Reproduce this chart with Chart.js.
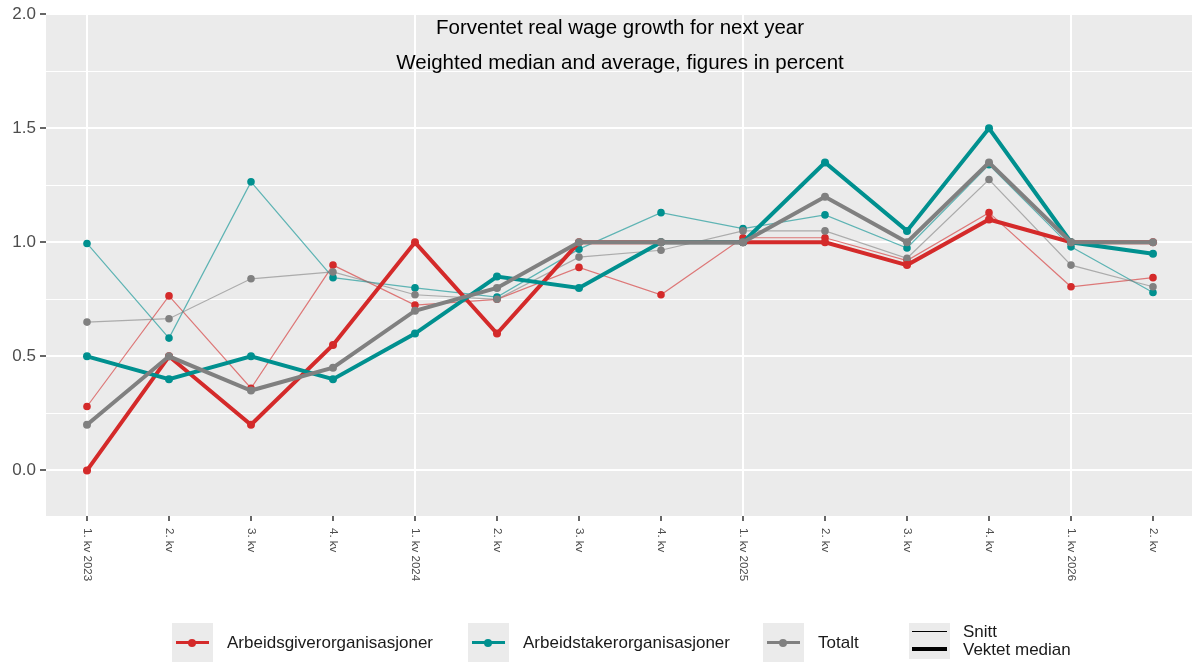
<!DOCTYPE html>
<html>
<head>
<meta charset="utf-8">
<script src="https://cdn.jsdelivr.net/npm/chart.js@4.4.1/dist/chart.umd.min.js"></script>
<style>
  html, body { margin: 0; padding: 0; background: #fff; overflow: hidden; }
  #wrap { position: relative; width: 1192px; height: 663px; overflow: hidden; font-family: "Liberation Sans", Arial, sans-serif; }
  canvas { position: absolute; left: 0; top: 0; }
  .key { position: absolute; top: 623px; width: 41px; height: 39px; background: #ebebeb; }
  .key .ln { position: absolute; left: 4px; right: 4px; top: 18px; height: 3px; }
  .key .dot { position: absolute; left: 16px; top: 16px; width: 8px; height: 8px; border-radius: 50%; }
  .lbl { position: absolute; font-size: 17px; line-height: 18px; color: #1a1a1a; white-space: nowrap; }
</style>
</head>
<body>
<div id="wrap">
  <!-- the panel runs a little past the right edge, like the original -->
  <canvas id="chart" width="1198" height="663"></canvas>
  <div id="legend"></div>
</div>
<script>
// Categories (quarters)
const quarters = ['1. kv 2023', '2. kv', '3. kv', '4. kv', '1. kv 2024', '2. kv', '3. kv', '4. kv',
                  '1. kv 2025', '2. kv', '3. kv', '4. kv', '1. kv 2026', '2. kv'];
const yMajorTicks = [0, 0.5, 1, 1.5, 2];
const yMinorTicks = [0.25, 0.75, 1.25, 1.75];

// Vektet median
const giverMedian = [0, 0.5, 0.2, 0.55, 1.0, 0.6, 1.0, 1.0, 1.0, 1.0, 0.9, 1.1, 1.0, 1.0];
const takerMedian = [0.5, 0.4, 0.5, 0.4, 0.6, 0.85, 0.8, 1.0, 1.0, 1.35, 1.05, 1.5, 1.0, 0.95];
const totalMedian = [0.2, 0.5, 0.35, 0.45, 0.7, 0.8, 1.0, 1.0, 1.0, 1.2, 1.0, 1.35, 1.0, 1.0];

// Snitt
const giverSnitt = [0.28, 0.765, 0.36, 0.9, 0.725, 0.75, 0.89, 0.77, 1.02, 1.02, 0.92, 1.13, 0.805, 0.845];
const takerSnitt = [0.995, 0.58, 1.265, 0.845, 0.8, 0.76, 0.97, 1.13, 1.06, 1.12, 0.975, 1.34, 0.98, 0.78];
const totalSnitt = [0.65, 0.665, 0.84, 0.87, 0.77, 0.75, 0.935, 0.965, 1.05, 1.05, 0.93, 1.275, 0.9, 0.805];

const titleLines = ['Forventet real wage growth for next year', 'Weighted median and average, figures in percent'];

const RED = '#d42a2a';
const TEAL = '#00908f';
const GRAY = '#808080';

function fade(hex, a) {
    const n = parseInt(hex.slice(1), 16);
    return `rgba(${n >> 16}, ${(n >> 8) & 255}, ${n & 255}, ${a})`;
}

function thinSet(label, data, color, order) {
    return {
        label, data, order,
        borderColor: fade(color, 0.6),
        borderWidth: 1.2,
        pointBackgroundColor: color,
        pointBorderWidth: 0,
        pointRadius: 3.8,
        tension: 0
    };
}

function thickSet(label, data, color, order) {
    return {
        label, data, order,
        borderColor: color,
        borderWidth: 4,
        pointBackgroundColor: color,
        pointBorderWidth: 0,
        pointRadius: 4,
        tension: 0
    };
}

const panelPlugin = {
    id: 'panel',
    beforeDraw(chart) {
        const { ctx, chartArea: a } = chart;
        ctx.save();
        ctx.fillStyle = '#ebebeb';
        ctx.fillRect(a.left, a.top, a.right - a.left, a.bottom - a.top);
        ctx.restore();
    },
    afterDraw(chart) {
        const { ctx, chartArea: a } = chart;
        const xScale = chart.scales.x;

        // title inside the panel
        ctx.save();
        ctx.fillStyle = '#000';
        ctx.font = '20.5px "Liberation Sans", Arial, sans-serif';
        ctx.textAlign = 'center';
        ctx.textBaseline = 'middle';
        const cx = 620;
        ctx.fillText(titleLines[0], cx, 28);
        ctx.fillText(titleLines[1], cx, 63);

        // x labels rotated clockwise
        ctx.fillStyle = '#4d4d4d';
        ctx.font = '11.5px "Liberation Sans", Arial, sans-serif';
        ctx.textAlign = 'left';
        ctx.textBaseline = 'middle';
        quarters.forEach((q, i) => {
            const x = xScale.getPixelForValue(i);
            ctx.save();
            ctx.translate(x, a.bottom + 12);
            ctx.rotate(Math.PI / 2);
            ctx.fillText(q, 0, 0);
            ctx.restore();
        });
        ctx.restore();
    }
};

new Chart(document.getElementById('chart'), {
    type: 'line',
    data: {
        labels: quarters,
        datasets: [
            thinSet('Arbeidsgiverorganisasjoner snitt', giverSnitt, RED, 6),
            thinSet('Arbeidstakerorganisasjoner snitt', takerSnitt, TEAL, 5),
            thinSet('Totalt snitt', totalSnitt, GRAY, 4),
            thickSet('Arbeidsgiverorganisasjoner median', giverMedian, RED, 3),
            thickSet('Arbeidstakerorganisasjoner median', takerMedian, TEAL, 2),
            thickSet('Totalt median', totalMedian, GRAY, 1)
        ]
    },
    options: {
        responsive: false,
        animation: false,
        layout: { padding: { top: 13, left: 0, right: 0, bottom: 0 } },
        plugins: {
            legend: { display: false },
            tooltip: { enabled: false }
        },
        scales: {
            x: {
                type: 'category',
                offset: true,
                border: { display: false },
                grid: {
                    color: c => (quarters[c.index] || '').startsWith('1.') ? '#ffffff' : 'rgba(0,0,0,0)',
                    lineWidth: 2,
                    drawTicks: true,
                    tickLength: 5,
                    tickColor: '#333333',
                    tickWidth: 1.5
                },
                ticks: { display: false },
                afterFit(scale) { scale.height = 147; }
            },
            y: {
                min: -0.2,
                max: 2.0,
                border: { display: false },
                afterBuildTicks(scale) {
                    scale.ticks = [...yMajorTicks, ...yMinorTicks].sort((p, q) => p - q).map(v => ({ value: v }));
                },
                grid: {
                    color: '#ffffff',
                    lineWidth: c => yMajorTicks.includes(c.tick.value) ? 2 : 1,
                    drawTicks: true,
                    tickLength: 6,
                    tickColor: c => yMajorTicks.includes(c.tick.value) ? '#333333' : 'rgba(0,0,0,0)',
                    tickWidth: 1.5
                },
                ticks: {
                    color: '#4d4d4d',
                    padding: 4,
                    font: { family: '"Liberation Sans", Arial, sans-serif', size: 17 },
                    callback: v => yMajorTicks.includes(v) ? v.toFixed(1) : ''
                },
                afterFit(scale) { scale.width = 46; }
            }
        }
    },
    plugins: [panelPlugin]
});

// legend (ggplot style keys)
const legendItems = [
    { name: 'Arbeidsgiverorganisasjoner', color: RED, left: 172 },
    { name: 'Arbeidstakerorganisasjoner', color: TEAL, left: 468 },
    { name: 'Totalt', color: GRAY, left: 763 }
];
const legend = document.getElementById('legend');
legendItems.forEach(item => {
    legend.insertAdjacentHTML('beforeend', `
        <div class="key" style="left:${item.left}px">
            <div class="ln" style="background:${item.color}"></div>
            <div class="dot" style="background:${item.color}"></div>
        </div>
        <div class="lbl" style="left:${item.left + 55}px; top:634px">${item.name}</div>`);
});
legend.insertAdjacentHTML('beforeend', `
    <div class="key" style="left:909px; height:36px">
        <div style="position:absolute; left:3px; right:3px; top:8px; height:1px; background:#000"></div>
        <div style="position:absolute; left:3px; right:3px; top:24px; height:4px; background:#000"></div>
    </div>
    <div class="lbl" style="left:963px; top:623px">Snitt</div>
    <div class="lbl" style="left:963px; top:641px">Vektet median</div>`);
</script>
</body>
</html>
